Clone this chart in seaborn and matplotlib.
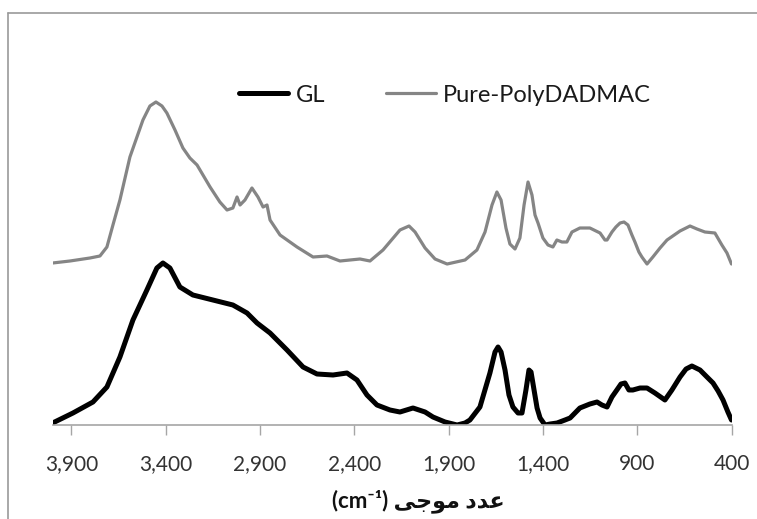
import numpy as np
import pandas as pd
import matplotlib
matplotlib.use("Agg")
import matplotlib.pyplot as plt
from matplotlib.lines import Line2D
import seaborn as sns

# ---------------- data ----------------
pure_wn = [4000, 3908, 3802, 3749, 3712, 3680, 3643, 3590, 3521, 3484, 3452, 3420, 3394,
           3351, 3309, 3272, 3234, 3165, 3113, 3075, 3044, 3022, 3006, 2980, 2943, 2911,
           2884, 2863, 2847, 2794, 2704, 2619, 2545, 2476, 2370, 2317, 2248, 2158, 2110,
           2078, 2025, 1972, 1908, 1813, 1750, 1707, 1670, 1644, 1622, 1596, 1575, 1548,
           1522, 1500, 1479, 1458, 1442, 1426, 1400, 1373, 1347, 1326, 1299, 1273, 1246,
           1204, 1151, 1097, 1071, 1060, 1034, 1013, 991, 970, 949, 928, 912, 891, 875,
           848, 817, 779, 742, 673, 620, 583, 541, 488, 451, 424, 400]
pure_int = [162, 164, 167, 169, 178, 200, 225, 268, 305, 319, 323, 319, 312,
            295, 277, 267, 260, 238, 223, 215, 217, 228, 220, 225, 237, 228,
            218, 220, 205, 190, 178, 168, 169, 164, 166, 164, 175, 195, 199,
            193, 177, 166, 161, 165, 175, 193, 220, 233, 225, 197, 181, 176,
            187, 220, 243, 230, 210, 202, 187, 180, 178, 185, 183, 183, 193,
            197, 197, 192, 185, 185, 193, 198, 202, 203, 200, 190, 183, 173, 168,
            161, 168, 177, 185, 194, 199, 196, 193, 192, 180, 172, 161]

gl_wn = [4000, 3892, 3786, 3712, 3643, 3574, 3500, 3447, 3415, 3378, 3325, 3256, 3150,
         3044, 2969, 2916, 2847, 2757, 2672, 2598, 2513, 2439, 2386, 2333, 2280, 2211,
         2158, 2089, 2025, 1983, 1919, 1855, 1813, 1787, 1734, 1681, 1654, 1638, 1622,
         1601, 1580, 1559, 1532, 1511, 1490, 1474, 1463, 1447, 1431, 1415, 1389, 1362,
         1325, 1283, 1256, 1230, 1204, 1151, 1113, 1087, 1060, 1034, 1008, 986, 965,
         944, 923, 885, 848, 806, 753, 716, 673, 641, 610, 567, 530, 498, 471, 445,
         419, 400]
gl_int = [2, 12, 23, 38, 68, 105, 135, 157, 162, 157, 138, 130, 125,
          120, 112, 102, 92, 75, 58, 51, 50, 52, 45, 30, 20, 15,
          13, 17, 13, 8, 3, 0, 2, 5, 18, 52, 73, 78, 73,
          55, 30, 18, 12, 12, 35, 55, 53, 35, 17, 7, 0, 1,
          2, 5, 7, 12, 17, 21, 23, 20, 18, 28, 35, 41, 42,
          35, 35, 37, 37, 32, 25, 35, 48, 56, 59, 55, 48, 42, 34, 25,
          13, 5]

series_names = ["GL", "Pure-PolyDADMAC"]
tick_values = [3900, 3400, 2900, 2400, 1900, 1400, 900, 400]
tick_labels = ["3,900", "3,400", "2,900", "2,400", "1,900", "1,400", "900", "400"]
x_label = "(cm\u207b\u00b9) " + "\uFBFD\uFE9F\uFEEE\uFEE3 \uFEA9\uFEAA\uFECB"  # عدد موجی (visual order)

# ---------------- plotting ----------------
sns.set_style("white")
plt.rcParams["font.family"] = ["Lato", "DejaVu Sans"]

fig = plt.figure(figsize=(7.57, 5.19), dpi=100)
ax = fig.add_axes([52.6 / 757, 1 - 425 / 519, (731.5 - 52.6) / 757, (425 - 60) / 519])

df_gl = pd.DataFrame({"wn": gl_wn, "val": gl_int})
df_pure = pd.DataFrame({"wn": pure_wn, "val": pure_int})
sns.lineplot(data=df_gl, x="wn", y="val", ax=ax, color="black", lw=3.6,
             label=series_names[0], sort=False, solid_joinstyle="round",
             solid_capstyle="round")
sns.lineplot(data=df_pure, x="wn", y="val", ax=ax, color="#858585", lw=2.3,
             label=series_names[1], sort=False, solid_joinstyle="round",
             solid_capstyle="round")

ax.set_xlim(4000, 400)
ax.set_ylim(0, 365)
ax.set_xticks(tick_values)
ax.set_xticklabels(tick_labels)
ax.set_yticks([])
ax.set_ylabel("")
ax.set_xlabel(x_label, fontsize=16, fontweight="bold",
              family=["Lato", "DejaVu Sans"], color="#111111")
ax.xaxis.set_label_coords((418 - 52.6) / 678.9, (425 - 501) / 365)
ax.xaxis.label.set_va("center")
for s in ["left", "right", "top"]:
    ax.spines[s].set_visible(False)
ax.spines["bottom"].set_color("#a6a6a6")
ax.spines["bottom"].set_linewidth(1.2)
ax.tick_params(axis="x", direction="out", length=7, width=1, color="#a6a6a6",
               labelsize=15, labelcolor="#333333", pad=14, bottom=True)

leg = ax.legend(loc="center", bbox_to_anchor=(445 / 757, 1 - 95 / 519),
                bbox_transform=fig.transFigure, ncol=2, frameon=False,
                fontsize=17, handlelength=2.1, columnspacing=2.6, handletextpad=0.3)
for t in leg.get_texts():
    t.set_color("#1a1a1a")

# outer chart frame
fig.add_artist(Line2D([8 / 757, 8 / 757], [0, 1 - 13 / 519], transform=fig.transFigure,
                      color="#9a9a9a", lw=1.2))
fig.add_artist(Line2D([8 / 757, 1], [1 - 13 / 519, 1 - 13 / 519], transform=fig.transFigure,
                      color="#9a9a9a", lw=1.2))

fig.savefig("out.png", dpi=100)
